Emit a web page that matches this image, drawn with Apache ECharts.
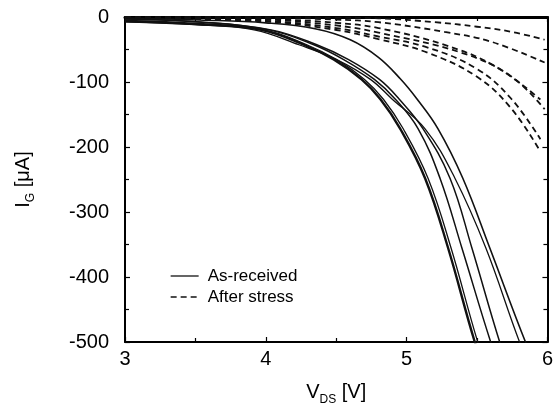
<!DOCTYPE html>
<html>
<head>
<meta charset="utf-8">
<script src="https://cdn.jsdelivr.net/npm/echarts@6/dist/echarts.min.js"></script>
<style>html,body{margin:0;padding:0;background:#fff}#c{width:556px;height:411px}</style>
</head>
<body>
<div id="c"></div>
<script>
// ---- data: [V_DS (V), I_G (uA)] ----
const xTicks = [3, 4, 5, 6];
const yTicks = [0, -100, -200, -300, -400, -500];

const asReceived1 = [[3.0,-6],[3.53,-10.7],[3.967,-19.8],[4.27,-42.7],[4.482,-65.5],[4.68,-96],[4.814,-126.5],[4.955,-172],[5.131,-248],[5.294,-355],[5.484,-500],[5.527,-520]];
const asReceived2 = [[3.0,-7.6],[3.53,-12.2],[3.988,-19.8],[4.291,-42.7],[4.503,-65.5],[4.701,-96],[4.835,-126.5],[4.976,-172],[5.152,-248],[5.315,-355],[5.505,-500],[5.548,-520]];
const asReceived3 = [[3.0,-3],[3.53,-7.6],[4.023,-19.8],[4.341,-42.7],[4.553,-65.5],[4.771,-96],[4.92,-126.5],[5.082,-172],[5.237,-248],[5.392,-355],[5.597,-500],[5.639,-520]];
const asReceived4 = [[3.0,-3],[3.53,-7.6],[4.037,-19.8],[4.362,-42.7],[4.588,-65.5],[4.807,-96],[4.948,-126.5],[5.117,-172],[5.308,-248],[5.463,-355],[5.661,-500],[5.703,-520]];
const asReceived5 = [[3.0,-7.6],[3.53,-12.2],[3.917,-19.8],[4.235,-42.7],[4.503,-65.5],[4.743,-96],[4.898,-126.5],[5.131,-172],[5.343,-248],[5.562,-355],[5.802,-500],[5.851,-520]];
const asReceived6 = [[3.0,-1.5],[3.53,-4.6],[4.0,-9],[4.35,-18],[4.6,-35],[4.8,-62],[4.955,-95],[5.075,-126.5],[5.223,-172],[5.399,-248],[5.59,-355],[5.844,-500],[5.893,-520]];

const afterStress1 = [[3.0,0],[4.0,-0.5],[4.5,-1],[4.8,-2],[5.2,-8],[5.5,-15],[5.75,-23],[5.98,-35]];
const afterStress2 = [[3.0,0],[4.0,-1],[4.5,-4],[4.8,-8],[5.27,-23],[5.6,-38],[5.98,-70]];
const afterStress3 = [[3.0,0],[4.0,-3],[4.5,-9],[4.8,-17],[5.27,-43],[5.63,-76],[5.95,-127]];
const afterStress4 = [[3.0,-1],[4.0,-4],[4.5,-13],[4.8,-24],[5.39,-55],[5.74,-91],[5.98,-142]];
const afterStress5 = [[3.0,-1],[4.0,-6],[4.5,-17],[4.8,-30],[5.15,-47],[5.5,-80],[5.74,-125],[5.95,-188]];
const afterStress6 = [[3.0,-1],[4.0,-7],[4.5,-20],[4.8,-34],[5.15,-55],[5.5,-92],[5.74,-140],[5.95,-207]];

const solidSets = [asReceived1, asReceived2, asReceived3, asReceived4, asReceived5, asReceived6];
const dashedSets = [afterStress1, afterStress2, afterStress3, afterStress4, afterStress5, afterStress6];
const solidWidths = [2.4, 1.3, 1.5, 1.5, 1.3, 1.6];

const FONT = 'Liberation Sans, Arial, Helvetica, sans-serif';
const chart = echarts.init(document.getElementById('c'), null, {renderer: 'canvas'});

const series = [];
solidSets.forEach((d, i) => series.push({
  name: 'As-received', type: 'line', data: d, showSymbol: false, symbol: 'none',
  smooth: 0.4, clip: true, silent: true,
  itemStyle: {color: '#111'},
  lineStyle: {color: '#111', width: solidWidths[i], type: 'solid'}
}));
dashedSets.forEach((d) => series.push({
  name: 'After stress', type: 'line', data: d, showSymbol: false, symbol: 'none',
  smooth: 0.4, clip: true, silent: true,
  itemStyle: {color: '#111'},
  lineStyle: {color: '#111', width: 1.8, type: [6, 4]}
}));

const tickCommon = {inside: true, length: 5, lineStyle: {color: '#000', width: 1.2}};
const minorCommon = {show: true, splitNumber: 2, length: 4, lineStyle: {color: '#000', width: 1.2}};
const lineCommon = {show: true, onZero: false, lineStyle: {color: '#000', width: 2}};

chart.setOption({
  animation: false,
  backgroundColor: '#fff',
  grid: {left: 125, right: 6, top: 17, bottom: 66},
  legend: {
    left: 165, top: 262, orient: 'vertical', itemWidth: 28, itemHeight: 14, itemGap: 3,
    data: ['As-received', 'After stress'],
    itemStyle: {opacity: 0},
    lineStyle: {width: 1.3},
    textStyle: {fontFamily: FONT, fontSize: 17, color: '#000', padding: [0, 0, 0, 4], lineHeight: 18},
    selectedMode: false
  },
  xAxis: [{
    type: 'value', min: xTicks[0], max: xTicks[xTicks.length - 1], interval: 1, position: 'bottom',
    axisLine: lineCommon, axisTick: tickCommon, minorTick: minorCommon, splitLine: {show: false},
    axisLabel: {margin: 7, fontFamily: FONT, fontSize: 20, color: '#000'},
    name: '{a|V}{sub|DS}{a| [V]}', nameLocation: 'middle', nameGap: 36,
    nameTextStyle: {rich: {
      a: {fontFamily: FONT, fontSize: 20, color: '#000', lineHeight: 24, verticalAlign: 'bottom'},
      sub: {fontFamily: FONT, fontSize: 12, color: '#000', lineHeight: 18, verticalAlign: 'bottom', padding: [0, 0, -4, 0]}
    }}
  }, {
    type: 'value', min: xTicks[0], max: xTicks[xTicks.length - 1], interval: 1, position: 'top',
    axisLine: {show: true, onZero: false, lineStyle: {color: '#000', width: 3}},
    axisTick: tickCommon, minorTick: minorCommon, splitLine: {show: false},
    axisLabel: {show: false}
  }],
  yAxis: [{
    type: 'value', min: yTicks[yTicks.length - 1], max: yTicks[0], interval: 100, position: 'left',
    axisLine: lineCommon, axisTick: tickCommon, minorTick: minorCommon, splitLine: {show: false},
    axisLabel: {margin: 16, fontFamily: FONT, fontSize: 20, color: '#000'},
    name: '{a|I}{sub|G}{a| [μA]}', nameLocation: 'middle', nameGap: 92, nameRotate: 90,
    nameTextStyle: {rich: {
      a: {fontFamily: FONT, fontSize: 20, color: '#000', lineHeight: 24, verticalAlign: 'bottom'},
      sub: {fontFamily: FONT, fontSize: 12, color: '#000', lineHeight: 18, verticalAlign: 'bottom', padding: [0, 0, -4, 0]}
    }}
  }, {
    type: 'value', min: yTicks[yTicks.length - 1], max: yTicks[0], interval: 100, position: 'right',
    axisLine: lineCommon, axisTick: tickCommon, minorTick: minorCommon, splitLine: {show: false},
    axisLabel: {show: false}
  }],
  series: series
});
</script>
</body>
</html>
